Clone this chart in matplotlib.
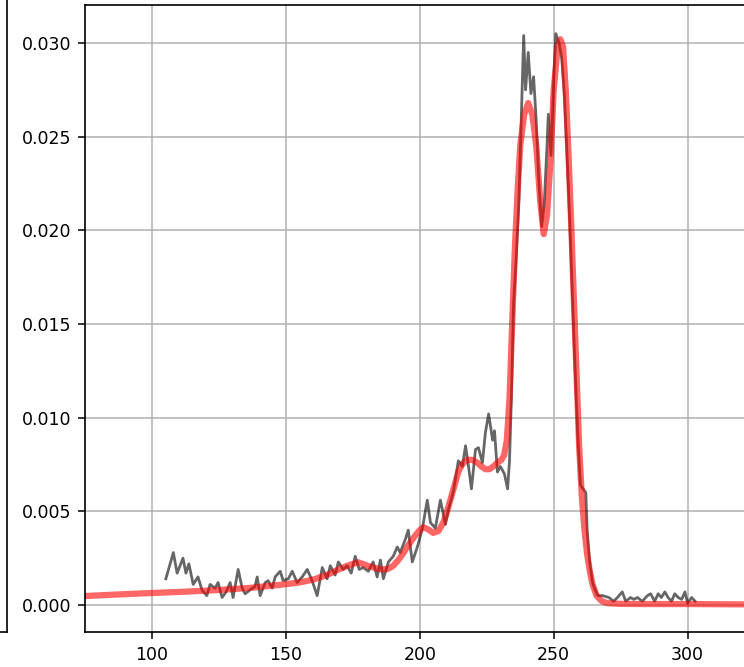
import matplotlib
matplotlib.use("Agg")
import matplotlib.pyplot as plt

# measured spectrum (noisy)
x_raw = [105.2, 108.0, 109.4, 111.6, 112.7, 113.8, 115.4, 117.2, 118.7, 120.5,
         121.7, 123.6, 124.7, 126.2, 127.7, 129.2, 130.3, 132.2, 133.7, 134.8,
         136.6, 138.5, 139.3, 140.4, 142.3, 143.4, 144.9, 146.0, 147.9, 149.0,
         150.9, 152.4, 154.2, 156.1, 158.0, 159.8, 161.7, 163.6, 165.4, 166.6,
         168.4, 169.6, 171.4, 172.9, 174.4, 175.9, 177.4, 178.9, 180.8, 182.6,
         184.1, 185.3, 186.4, 188.3, 190.1, 191.6, 192.7, 194.6, 195.7, 197.2,
         199.1, 201.0, 202.8, 204.0, 205.8, 207.7, 209.6, 210.7, 212.6, 214.4,
         215.9, 217.1, 218.2, 219.3, 220.8, 221.9, 223.4, 224.5, 225.7, 227.2,
         227.9, 229.0, 230.1, 231.6, 232.8, 233.5, 234.2, 235.0, 236.0, 237.0,
         238.0, 238.8, 239.5, 240.5, 241.5, 242.5, 243.5, 244.5, 245.5, 246.5,
         247.5, 248.0, 249.0, 250.0, 250.8, 252.0, 253.0, 254.0, 255.0, 256.0,
         257.0, 258.0, 259.0, 260.0, 261.0, 262.0, 262.5, 263.5, 264.5, 265.5,
         266.5, 268.3, 270.6, 272.4, 273.8, 275.6, 276.9, 278.7, 279.9, 281.3,
         283.1, 285.0, 286.2, 287.7, 289.0, 290.2, 291.5, 292.7, 294.0, 295.2,
         296.5, 297.8, 299.0, 300.0, 301.5, 302.8]
y_raw = [0.0014, 0.0028, 0.0017, 0.0025, 0.0017, 0.0022, 0.0011, 0.0015, 0.0008, 0.0005,
         0.0011, 0.0009, 0.0012, 0.0004, 0.0007, 0.0012, 0.0004, 0.0019, 0.0009, 0.0006,
         0.0008, 0.0010, 0.0015, 0.0005, 0.0012, 0.0013, 0.0009, 0.0015, 0.0018, 0.0013,
         0.0014, 0.0018, 0.0012, 0.0015, 0.0019, 0.0013, 0.0005, 0.0020, 0.0014, 0.0021,
         0.0016, 0.0023, 0.0019, 0.0021, 0.0017, 0.0026, 0.0019, 0.0020, 0.0018, 0.0023,
         0.0015, 0.0024, 0.0014, 0.0023, 0.0026, 0.0031, 0.0028, 0.0035, 0.0040, 0.0023,
         0.0031, 0.0041, 0.0056, 0.0044, 0.0041, 0.0056, 0.0043, 0.0051, 0.0061, 0.0077,
         0.0074, 0.0085, 0.0074, 0.0062, 0.0083, 0.0084, 0.0076, 0.0092, 0.0102, 0.0088,
         0.0093, 0.0071, 0.0074, 0.0070, 0.0062, 0.0077, 0.0110, 0.0160, 0.0185, 0.0215,
         0.0265, 0.0304, 0.0275, 0.0295, 0.0273, 0.0282, 0.0258, 0.0225, 0.0202, 0.0215,
         0.0245, 0.0262, 0.0240, 0.0280, 0.0305, 0.0300, 0.0292, 0.0272, 0.0240, 0.0205,
         0.0165, 0.0125, 0.0090, 0.0064, 0.0062, 0.0060, 0.0040, 0.0022, 0.0012, 0.0008,
         0.0005, 0.0005, 0.0004, 0.0002, 0.0004, 0.0007, 0.0002, 0.0004, 0.0003, 0.0004,
         0.0002, 0.0005, 0.0006, 0.0002, 0.0006, 0.0004, 0.0007, 0.0004, 0.0002, 0.0006,
         0.0004, 0.0003, 0.0007, 0.0001, 0.0004, 0.0002]

# fitted model (smooth)
x_fit = [75, 90, 100, 112, 125, 137, 148, 155, 160, 165, 169, 173, 177, 181.5, 185.3,
         188, 190, 192, 194, 196, 198, 200, 201.3, 203, 205, 207, 208.8, 210, 211.4,
         213, 214.4, 216, 217.8, 219.5, 221.5, 223, 224.5, 226, 227.5, 229, 230.5,
         231.5, 232.5, 233.5, 234.5, 235.5, 236.5, 237.5, 239.0, 240.5, 242.0,
         243.5, 245.0, 246.3, 247.5, 248.8, 250.0, 251.5, 252.5, 253.5, 254.5,
         255.5, 256.5, 257.5, 258.5, 259.5, 260.5, 261.5, 262.5, 263.5, 264.5,
         266, 268, 270, 275, 285, 300, 325]
y_fit = [0.00048, 0.00058, 0.00064, 0.00071, 0.00080, 0.00092, 0.00108, 0.00120, 0.00135, 0.00158, 0.00185,
         0.00210, 0.00228, 0.00205, 0.00190, 0.00192, 0.00208, 0.00240, 0.00280, 0.00325, 0.00365,
         0.00400, 0.00415, 0.00405, 0.00385, 0.00395, 0.00440, 0.00490, 0.00560, 0.00640, 0.00710,
         0.00755, 0.00775, 0.00775, 0.00760, 0.00740, 0.00725, 0.00725, 0.00740, 0.00760, 0.00775,
         0.00800, 0.00880, 0.01100, 0.01500, 0.01900, 0.02200, 0.02450, 0.02620, 0.02680, 0.02620,
         0.02450, 0.02150, 0.01980, 0.02080, 0.02370, 0.02750, 0.02980, 0.03020, 0.02980, 0.02750,
         0.02420, 0.02050, 0.01650, 0.01250, 0.00850, 0.00580, 0.00400, 0.00270, 0.00180, 0.00110,
         0.00050, 0.00020, 0.00010, 0.00006, 0.00005, 0.00005, 0.00003]

yticks = [0.0, 0.005, 0.010, 0.015, 0.020, 0.025, 0.030]
ytick_labels = ['0.000', '0.005', '0.010', '0.015', '0.020', '0.025', '0.030']
xticks = [100, 150, 200, 250, 300]

fig = plt.figure(figsize=(7.44, 6.67), dpi=100)

# neighbouring panel, only its right edge shows
ax0 = fig.add_axes([-0.5, 0.0525, 0.51, 1.0])
ax0.set_xticks([])
ax0.set_yticks([])
ax0.spines['top'].set_visible(False)
for sp in ax0.spines.values():
    sp.set_linewidth(1.2)

ax = fig.add_axes([0.1142, 0.0525, 0.900, 0.940])
ax.plot(x_raw, y_raw, color='k', alpha=0.6, lw=2.0)
ax.plot(x_fit, y_fit, color='red', alpha=0.6, lw=4.5)
ax.set_xlim(75, 325)
ax.set_ylim(-0.00144, 0.03203)
ax.set_xticks(xticks)
ax.set_yticks(yticks)
ax.set_yticklabels(ytick_labels)
ax.tick_params(labelsize=12.5, length=5, width=1.1, pad=5)
for sp in ax.spines.values():
    sp.set_linewidth(1.2)
ax.grid(True, color='#b0b0b0', lw=1.1)

fig.savefig("out.png", dpi=100)
